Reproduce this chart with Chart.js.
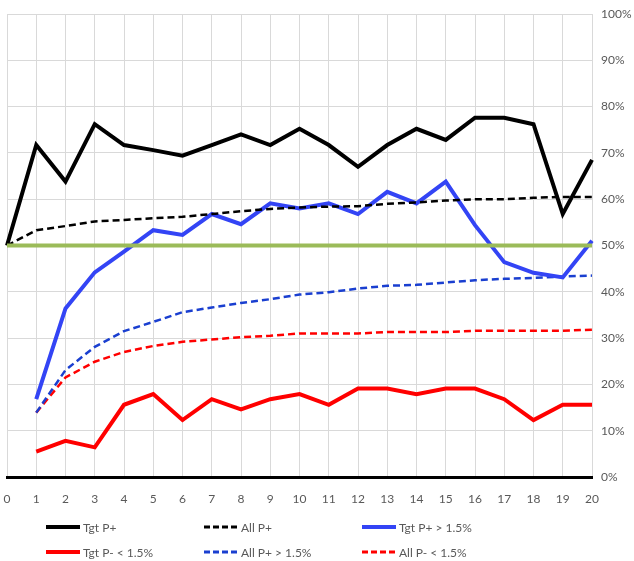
<!DOCTYPE html>
<html>
<head>
<meta charset="utf-8">
<script src="https://cdn.jsdelivr.net/npm/chart.js@4/dist/chart.umd.min.js"></script>
<style>
  html, body { margin: 0; padding: 0; background: #fff; }
  #wrap { width: 634px; height: 561px; }
</style>
</head>
<body>
<div id="wrap"><canvas id="Chart" width="634" height="561"></canvas></div>
<script>
// x categories and y ticks
const xLabels = ['0','1','2','3','4','5','6','7','8','9','10','11','12','13','14','15','16','17','18','19','20'];
const yTicks = [0, 10, 20, 30, 40, 50, 60, 70, 80, 90, 100];

// series values in %
const tgtPplus      = [50, 71.7, 63.8, 76.2, 71.7, 70.6, 69.4, 71.7, 74.0, 71.7, 75.2, 71.7, 67.0, 71.7, 75.2, 72.8, 77.6, 77.6, 76.2, 56.8, 68.5];
const allPplus      = [50, 53.3, 54.2, 55.2, 55.5, 55.9, 56.2, 56.8, 57.4, 57.9, 58.2, 58.4, 58.5, 59.0, 59.3, 59.7, 60.0, 60.0, 60.3, 60.5, 60.5];
const tgtPplusOver  = [null, 16.8, 36.4, 44.2, 48.7, 53.3, 52.3, 56.8, 54.6, 59.1, 58.0, 59.1, 56.8, 61.6, 59.1, 63.8, 54.4, 46.4, 44.1, 43.1, 51.0];
const tgtPminusUnder= [null, 5.5, 7.8, 6.4, 15.6, 17.9, 12.3, 16.8, 14.6, 16.8, 17.9, 15.6, 19.1, 19.1, 17.9, 19.1, 19.1, 16.8, 12.3, 15.6, 15.6];
const allPplusOver  = [null, 13.9, 23.1, 28.1, 31.5, 33.5, 35.6, 36.6, 37.6, 38.4, 39.4, 39.9, 40.7, 41.3, 41.5, 42.0, 42.5, 42.8, 43.0, 43.3, 43.5];
const allPminusUnder= [null, 13.9, 21.5, 24.9, 27.0, 28.3, 29.2, 29.7, 30.2, 30.5, 31.0, 31.0, 31.0, 31.3, 31.3, 31.3, 31.6, 31.6, 31.6, 31.6, 31.8];
// 50% reference line
const refLine = [50, 50, 50, 50, 50, 50, 50, 50, 50, 50, 50, 50, 50, 50, 50, 50, 50, 50, 50, 50, 50];

const FONT = 'Lato, "Open Sans", sans-serif';
const DASH = [7, 4];

function lineSet(label, data, color, width, dash) {
    return {
        label: label,
        data: data,
        borderColor: color,
        backgroundColor: color,
        borderWidth: width,
        borderDash: dash || [],
        pointRadius: 0,
        tension: 0,
        fill: false,
        spanGaps: false,
        inLegend: true
    };
}

const refSet = lineSet('50%', refLine, '#9BBB59', 4);
refSet.inLegend = false;

// legend grid: 3 columns x 2 rows
const legendCols = [46, 204, 362];
const legendRows = [527, 552];

const customLegend = {
    id: 'customLegend',
    afterDraw(chart) {
        const ctx = chart.ctx;
        const items = chart.data.datasets.filter(d => d.inLegend);
        ctx.save();
        items.forEach((ds, i) => {
            const x = legendCols[i % 3];
            const y = legendRows[Math.floor(i / 3)];
            ctx.beginPath();
            ctx.strokeStyle = ds.borderColor;
            ctx.lineWidth = ds.borderDash.length ? 3 : 4;
            ctx.setLineDash(ds.borderDash.length ? [6, 3] : []);
            ctx.moveTo(x, y);
            ctx.lineTo(x + 34, y);
            ctx.stroke();
            ctx.setLineDash([]);
            ctx.fillStyle = '#595959';
            ctx.font = '12px ' + FONT;
            ctx.textBaseline = 'middle';
            ctx.fillText(ds.label, x + 37, y + 1);
        });
        ctx.restore();
    }
};

const ctx = document.getElementById('Chart').getContext('2d');
const myChart = new Chart(ctx, {
    type: 'line',
    data: {
        labels: xLabels,
        datasets: [
            refSet,
            lineSet('Tgt P+', tgtPplus, '#000000', 4),
            lineSet('All P+', allPplus, '#000000', 2.5, DASH),
            lineSet('Tgt P+ > 1.5%', tgtPplusOver, '#3344F5', 4),
            lineSet('Tgt P- < 1.5%', tgtPminusUnder, '#FF0000', 4),
            lineSet('All P+ > 1.5%', allPplusOver, '#1A3FD0', 2.5, DASH),
            lineSet('All P- < 1.5%', allPminusUnder, '#FF0000', 2.5, DASH)
        ]
    },
    options: {
        responsive: false,
        animation: false,
        layout: { padding: { left: 7, right: 0, top: 14, bottom: 56 } },
        plugins: {
            legend: { display: false },
            tooltip: { enabled: false }
        },
        scales: {
            x: {
                offset: false,
                grid: { color: '#D9D9D9', lineWidth: 1, drawTicks: false },
                border: { color: '#000000', width: 3 },
                ticks: {
                    color: '#595959',
                    font: { family: FONT, size: 12 },
                    padding: 15,
                    maxRotation: 0,
                    autoSkip: false
                },
                afterFit(scale) {
                    scale.height = 28;
                    scale.paddingLeft = 0;
                    scale.paddingRight = 0;
                }
            },
            y: {
                position: 'right',
                min: 0,
                max: 100,
                afterBuildTicks(scale) { scale.ticks = yTicks.map(v => ({ value: v })); },
                grid: { color: '#D9D9D9', lineWidth: 1, drawTicks: false },
                border: { display: false },
                ticks: {
                    color: '#595959',
                    font: { family: FONT, size: 12 },
                    padding: 9,
                    callback: v => v + '%'
                },
                afterFit(scale) {
                    scale.width = 42;
                    scale.paddingTop = 0;
                    scale.paddingBottom = 0;
                }
            }
        }
    },
    plugins: [customLegend]
});
</script>
</body>
</html>
